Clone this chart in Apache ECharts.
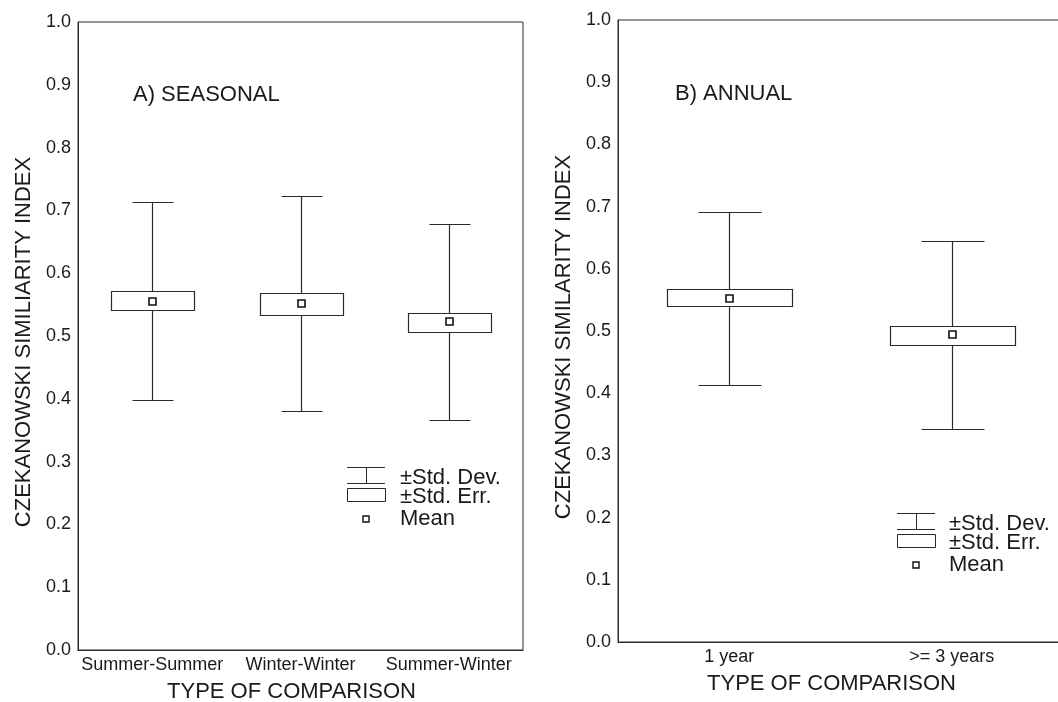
<!DOCTYPE html>
<html>
<head>
<meta charset="utf-8">
<script src="https://cdn.jsdelivr.net/npm/echarts@6/dist/echarts.min.js"></script>
<style>
html,body{margin:0;padding:0;background:#fff;}
#chart{width:1058px;height:702px;}
</style>
</head>
<body>
<div id="chart"></div>
<script>
// ---- data ----
const seasonalCats   = ['Summer-Summer', 'Winter-Winter', 'Summer-Winter'];
const seasonalSdLow  = [0.398, 0.380, 0.367];
const seasonalSeLow  = [0.540, 0.534, 0.507];
const seasonalMean   = [0.555, 0.551, 0.523];
const seasonalSeHigh = [0.571, 0.569, 0.537];
const seasonalSdHigh = [0.713, 0.723, 0.679];

const annualCats   = ['1 year', '>= 3 years'];
const annualSdLow  = [0.413, 0.342];
const annualSeLow  = [0.539, 0.478];
const annualMean   = [0.553, 0.494];
const annualSeHigh = [0.567, 0.508];
const annualSdHigh = [0.692, 0.644];

const yMin = 0, yMax = 1, yStep = 0.1;
const legendLabels = ['\u00B1Std. Dev.', '\u00B1Std. Err.', 'Mean'];

// ---- styles ----
const FONT = '"Liberation Sans", Arial, sans-serif';
const INK = '#1a1a1a';
const LINE = '#2a2a2a';

function rows(sdLo, seLo, mean, seHi, sdHi) {
  return sdLo.map((v, i) => [i, v, seLo[i], mean[i], seHi[i], sdHi[i]]);
}
const px = v => Math.round(v) + 0.5;

function renderItem(params, api) {
  const x = api.value(0);
  const sdLo = api.coord([x, api.value(1)]);
  const seLo = api.coord([x, api.value(2)]);
  const mn   = api.coord([x, api.value(3)]);
  const seHi = api.coord([x, api.value(4)]);
  const sdHi = api.coord([x, api.value(5)]);
  const band = api.size([1, 0])[0];
  const bw = band * 0.56, cw = band * 0.28;
  const cx = px(sdLo[0]);
  const lineStyle = { stroke: LINE, lineWidth: 1.2 };
  return {
    type: 'group',
    children: [
      { type: 'line', shape: { x1: cx, y1: px(sdLo[1]), x2: cx, y2: px(sdHi[1]) }, style: lineStyle },
      { type: 'line', shape: { x1: px(cx - cw / 2), y1: px(sdLo[1]), x2: px(cx + cw / 2), y2: px(sdLo[1]) }, style: lineStyle },
      { type: 'line', shape: { x1: px(cx - cw / 2), y1: px(sdHi[1]), x2: px(cx + cw / 2), y2: px(sdHi[1]) }, style: lineStyle },
      { type: 'rect', shape: { x: px(cx - bw / 2), y: px(seHi[1]), width: Math.round(bw), height: Math.round(seLo[1] - seHi[1]) },
        style: { fill: '#fff', stroke: LINE, lineWidth: 1.2 } },
      { type: 'rect', shape: { x: Math.round(cx - 3.5), y: Math.round(mn[1] - 3.5), width: 7, height: 7 },
        style: { fill: '#fff', stroke: '#111', lineWidth: 1.6 } }
    ]
  };
}

function legendGraphic(x0, yTop, textLeft) {
  const w = 38, cx = x0 + 19;
  const ls = { stroke: LINE, lineWidth: 1 };
  return [
    { type: 'line', shape: { x1: x0, y1: yTop + 0.5, x2: x0 + w, y2: yTop + 0.5 }, style: ls },
    { type: 'line', shape: { x1: x0, y1: yTop + 16.5, x2: x0 + w, y2: yTop + 16.5 }, style: ls },
    { type: 'line', shape: { x1: cx + 0.5, y1: yTop, x2: cx + 0.5, y2: yTop + 16 }, style: ls },
    { type: 'rect', shape: { x: x0 + 0.5, y: yTop + 21.5, width: w, height: 13 }, style: { fill: '#fff', stroke: LINE, lineWidth: 1 } },
    { type: 'rect', shape: { x: cx - 3, y: yTop + 49, width: 6, height: 6 }, style: { fill: '#fff', stroke: '#111', lineWidth: 1.4 } },
    { type: 'text', x: textLeft, y: yTop + 11, style: { text: legendLabels[0], font: '22px ' + FONT, fill: INK, verticalAlign: 'middle' } },
    { type: 'text', x: textLeft, y: yTop + 30, style: { text: legendLabels[1], font: '22px ' + FONT, fill: INK, verticalAlign: 'middle' } },
    { type: 'text', x: textLeft, y: yTop + 52, style: { text: legendLabels[2], font: '22px ' + FONT, fill: INK, verticalAlign: 'middle' } }
  ];
}

function yAxis(gridIndex, name) {
  return {
    type: 'value', gridIndex, min: yMin, max: yMax, interval: yStep,
    name, nameLocation: 'middle', nameGap: 43, nameRotate: 90,
    nameTextStyle: { fontFamily: FONT, fontSize: 22, color: INK, padding: [0, 12, 0, 0] },
    axisLine: { show: true, lineStyle: { color: LINE, width: 1 } },
    axisTick: { show: false }, splitLine: { show: false },
    axisLabel: { margin: 7, fontFamily: FONT, fontSize: 18, color: INK, formatter: v => v.toFixed(1) }
  };
}
function xAxis(gridIndex, cats) {
  return {
    type: 'category', gridIndex, data: cats,
    name: 'TYPE OF COMPARISON', nameLocation: 'middle', nameGap: 31,
    nameTextStyle: { fontFamily: FONT, fontSize: 22, color: INK, padding: [0, 18, 0, 0] },
    axisLine: { show: true, lineStyle: { color: LINE, width: 1 } },
    axisTick: { show: false }, splitLine: { show: false },
    axisLabel: { margin: 6, fontFamily: FONT, fontSize: 18, color: INK, interval: 0 }
  };
}

const chart = echarts.init(document.getElementById('chart'), null, { renderer: 'canvas' });
chart.setOption({
  animation: false,
  backgroundColor: '#fff',
  grid: [
    { left: 78, top: 22, width: 445, height: 628, containLabel: false, outerBoundsMode: 'none',
      show: true, borderColor: LINE, borderWidth: 1, backgroundColor: 'transparent' },
    { left: 618, top: 20, width: 445, height: 622, containLabel: false, outerBoundsMode: 'none',
      show: true, borderColor: LINE, borderWidth: 1, backgroundColor: 'transparent' }
  ],
  xAxis: [xAxis(0, seasonalCats), xAxis(1, annualCats)],
  yAxis: [yAxis(0, 'CZEKANOWSKI SIMILIARITY INDEX'), yAxis(1, 'CZEKANOWSKI SIMILARITY INDEX')],
  series: [
    { type: 'custom', xAxisIndex: 0, yAxisIndex: 0, renderItem,
      encode: { x: 0, y: [1, 2, 3, 4, 5] },
      data: rows(seasonalSdLow, seasonalSeLow, seasonalMean, seasonalSeHigh, seasonalSdHigh) },
    { type: 'custom', xAxisIndex: 1, yAxisIndex: 1, renderItem,
      encode: { x: 0, y: [1, 2, 3, 4, 5] },
      data: rows(annualSdLow, annualSeLow, annualMean, annualSeHigh, annualSdHigh) }
  ],
  graphic: [
    { type: 'text', x: 133, y: 95, style: { text: 'A) SEASONAL', font: '22px ' + FONT, fill: INK, verticalAlign: 'middle' } },
    { type: 'text', x: 675, y: 94, style: { text: 'B) ANNUAL', font: '22px ' + FONT, fill: INK, verticalAlign: 'middle' } },
    ...legendGraphic(347, 467, 400),
    ...legendGraphic(897, 513, 949)
  ]
});
</script>
</body>
</html>
